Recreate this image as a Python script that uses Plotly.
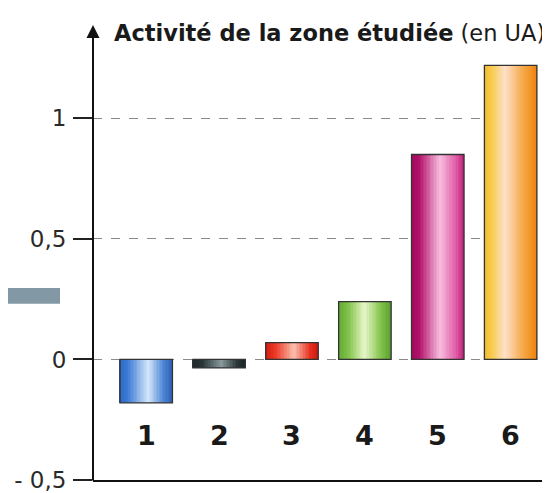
import plotly.graph_objects as go

categories = [1, 2, 3, 4, 5, 6]
category_labels = ["1", "2", "3", "4", "5", "6"]
values = [-0.18, -0.035, 0.07, 0.24, 0.85, 1.22]
tick_vals = [-0.5, 0, 0.5, 1]
tick_text = ["- 0,5", "0", "0,5", "1"]

# horizontal gradient stops for each bar: (position, colour)
bar_gradients = [
    [(0, "#2c68c4"), (0.15, "#3a7ad4"), (0.55, "#d4e6fa"), (0.85, "#4a82d2"), (1, "#2c62b8")],
    [(0, "#1c2628"), (0.2, "#2a3638"), (0.55, "#8a9a9c"), (0.85, "#2a3638"), (1, "#1c2628")],
    [(0, "#d41c10"), (0.2, "#ec3a28"), (0.55, "#fbc0b0"), (0.85, "#e83020"), (1, "#cc1a10")],
    [(0, "#62a834"), (0.2, "#82c44c"), (0.5, "#e8f6c8"), (0.8, "#86c650"), (1, "#5ca030")],
    [(0, "#a00a5a"), (0.15, "#b01068"), (0.55, "#f9bde0"), (0.85, "#e060a8"), (1, "#c0207a")],
    [(0, "#f4b828"), (0.15, "#f8cc50"), (0.4, "#fde0c8"), (0.75, "#f6a848"), (1, "#ee840c")],
]


def hex2rgb(c):
    return [int(c[i:i + 2], 16) for i in (1, 3, 5)]


def grad(stops, t):
    for (p0, c0), (p1, c1) in zip(stops[:-1], stops[1:]):
        if p0 <= t <= p1:
            u = (t - p0) / (p1 - p0)
            a, b = hex2rgb(c0), hex2rgb(c1)
            return "#%02x%02x%02x" % tuple(round(a[k] + (b[k] - a[k]) * u) for k in range(3))
    return stops[-1][1]


BAR_W = 0.72
N = 36
sw = BAR_W / N
fig = go.Figure()
for k in range(N):
    t = (k + 0.5) / N
    cols = [grad(g, t) for g in bar_gradients]
    fig.add_trace(go.Bar(x=categories, y=values, width=sw * 1.15, offset=-BAR_W / 2 + k * sw,
                         marker=dict(color=cols, line=dict(width=0)),
                         hoverinfo="skip", showlegend=False))
fig.add_trace(go.Bar(x=categories, y=values, width=BAR_W,
                     marker=dict(color="rgba(0,0,0,0)", line=dict(color="#333333", width=1.3)),
                     hoverinfo="skip", showlegend=False))

for c, lab in zip(categories, category_labels):
    fig.add_annotation(x=c, y=-0.315, text="<b>%s</b>" % lab, showarrow=False,
                       font=dict(size=27, color="#1a1a1a", family="DejaVu Sans"))

PH = 436
fig.add_annotation(xref="paper", yref="paper", x=0, y=(474 - 17) / PH,
                   ax=0, ay=457, axref="pixel", ayref="pixel", text="",
                   showarrow=True, arrowhead=2, arrowsize=1.3, arrowwidth=2,
                   arrowcolor="#111111")

fig.add_annotation(xref="paper", yref="paper", x=(104 - 85) / 457, y=(474 - 25) / PH,
                   xanchor="left", yanchor="middle", showarrow=False,
                   text="<b>Activité de la zone étudiée</b> (en UA)",
                   font=dict(size=22.5, color="#1a1a1a", family="DejaVu Sans"))

fig.add_shape(type="rect", xref="paper", yref="paper",
              x0=-93 / 457, x1=-33 / 457, y0=(474 - 297) / PH, y1=(474 - 281) / PH,
              fillcolor="#8298a5", line=dict(width=0), layer="below")

fig.update_layout(
    width=542, height=485,
    margin=dict(l=85, r=0, t=38, b=11),
    plot_bgcolor="white", paper_bgcolor="white",
    barmode="overlay",
    xaxis=dict(range=[0.27, 6.54], showticklabels=False, showgrid=False,
               zeroline=False, showline=True, linecolor="#111111", linewidth=2),
    yaxis=dict(range=[-0.5, 1.3], tickvals=tick_vals, ticktext=tick_text,
               ticks="outside", ticklen=19, tickwidth=1.5, tickcolor="#222222",
               ticklabelstandoff=2, ticklabeloverflow="allow",
               tickfont=dict(size=23, color="#2a2a2a", family="DejaVu Sans"),
               showgrid=True, gridcolor="#8a8a8a", gridwidth=1, griddash="dash",
               zeroline=False, showline=False),
)

fig.write_html("out.html")
